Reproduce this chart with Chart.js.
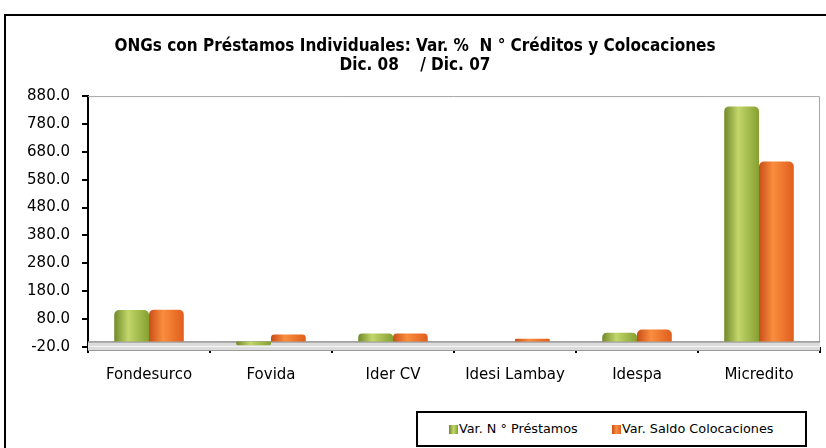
<!DOCTYPE html>
<html>
<head>
<meta charset="utf-8">
<script src="https://cdn.jsdelivr.net/npm/chart.js@4.4.1/dist/chart.umd.min.js"></script>
<style>
  html, body { margin: 0; padding: 0; background: #fff; }
  #wrap { position: relative; width: 826px; height: 448px; overflow: hidden; }
  #frame { position: absolute; left: 4px; top: 14px; width: 900px; height: 500px; border: 2px solid #000; box-sizing: border-box; }
  #chart { position: absolute; left: 0; top: 0; }
  #legend { position: absolute; left: 416px; top: 411px; width: 391px; height: 36px; border: 2px solid #000; box-sizing: border-box; background: #fff; font: 12.8px "DejaVu Sans", sans-serif; color: #000; }
  .item { position: absolute; top: 0; height: 32px; line-height: 32px; white-space: nowrap; }
  .icon { display: inline-block; width: 9px; height: 9px; margin-right: 1px; vertical-align: -1px; }
</style>
</head>
<body>
<div id="wrap">
  <div id="frame"></div>
  <canvas id="chart" width="826" height="448"></canvas>
  <div id="legend"></div>
</div>
<script>
/* ----------------------------- */
/* DATA                          */
/* ----------------------------- */
const categories = ["Fondesurco", "Fovida", "Ider CV", "Idesi Lambay", "Idespa", "Micredito"];
const prestamosVar = [113, -14, 28, 0, 31, 843];
const colocacionesVar = [114, 25, 28, 10, 43, 645];
const yTickValues = [-20, 80, 180, 280, 380, 480, 580, 680, 780, 880];
const seriesLabels = ["Var. N ° Préstamos", "Var. Saldo Colocaciones"];
const titleLines = [
  "ONGs con Préstamos Individuales: Var. %  N ° Créditos y Colocaciones",
  "Dic. 08    / Dic. 07",
];

/* ----------------------------- */
/* STYLE                         */
/* ----------------------------- */
const greenStops = ["#71892a", "#c3d66a", "#86a030"];
const orangeStops = ["#c94e17", "#f98d3e", "#e05e1c"];
const CAT_PCT = 0.57;

// cylinder-ish shading: horizontal gradient across each bar
const barGradient = (stops) => (ctx) => {
  const chart = ctx.chart;
  const xs = chart.scales.x;
  if (!xs || ctx.type !== "data" || !xs.width) return stops[1];
  const catW = xs.width / categories.length;
  const barW = (catW * CAT_PCT) / 2;
  const center = xs.getPixelForValue(ctx.dataIndex);
  if (!isFinite(center)) return stops[1];
  const left = center - barW + ctx.datasetIndex * barW;
  const g = chart.ctx.createLinearGradient(left, 0, left + barW, 0);
  g.addColorStop(0, stops[0]);
  g.addColorStop(0.4, stops[1]);
  g.addColorStop(1, stops[2]);
  return g;
};

// back wall edges + floor band
const wallPlugin = {
  id: "wall",
  beforeDatasetsDraw(chart) {
    const { ctx, chartArea: a, scales } = chart;
    const zeroY = scales.y.getPixelForValue(0);
    ctx.save();
    ctx.strokeStyle = "#a6a6a6";
    ctx.lineWidth = 1;
    ctx.beginPath();
    ctx.moveTo(a.left, a.top + 0.5);
    ctx.lineTo(a.right - 0.5, a.top + 0.5);
    ctx.lineTo(a.right - 0.5, a.bottom);
    ctx.stroke();
    ctx.fillStyle = "#dcdcdc";
    ctx.fillRect(a.left, zeroY, a.width, a.bottom + 3 - zeroY);
    ctx.strokeStyle = "#f4f4f4";
    ctx.beginPath();
    ctx.moveTo(a.left, a.bottom - 0.5);
    ctx.lineTo(a.right, a.bottom - 0.5);
    ctx.stroke();
    ctx.strokeStyle = "#707070";
    ctx.beginPath();
    ctx.moveTo(a.left, zeroY + 0.5);
    ctx.lineTo(a.right, zeroY + 0.5);
    ctx.stroke();
    ctx.strokeStyle = "#9a9a9a";
    ctx.beginPath();
    ctx.moveTo(a.left, a.bottom + 3.5);
    ctx.lineTo(a.right, a.bottom + 3.5);
    ctx.stroke();
    ctx.restore();
  },
};

/* ----------------------------- */
/* CHART                         */
/* ----------------------------- */
Chart.defaults.font.family = "'DejaVu Sans', sans-serif";
Chart.defaults.color = "#000";

new Chart(document.getElementById("chart"), {
  type: "bar",
  data: {
    labels: categories,
    datasets: [
      {
        label: seriesLabels[0],
        data: prestamosVar,
        backgroundColor: barGradient(greenStops),
        borderRadius: 5,
        borderSkipped: "start",
      },
      {
        label: seriesLabels[1],
        data: colocacionesVar,
        backgroundColor: barGradient(orangeStops),
        borderRadius: 5,
        borderSkipped: "start",
      },
    ],
  },
  options: {
    responsive: false,
    animation: false,
    layout: { padding: { left: 10, right: 6, top: 0, bottom: 51 } },
    datasets: { bar: { barPercentage: 1, categoryPercentage: CAT_PCT } },
    plugins: {
      legend: { display: false },
      tooltip: { enabled: false },
      title: {
        display: true,
        text: titleLines,
        color: "#000",
        font: { family: "'DejaVu Sans Condensed', 'DejaVu Sans', sans-serif", size: 17, weight: "bold", lineHeight: 1.12 },
        padding: { top: 37, bottom: 21 },
      },
    },
    scales: {
      x: {
        grid: {
          offset: true,
          drawOnChartArea: false,
          tickLength: 6,
          color: "#000",
          lineWidth: 2,
        },
        border: { display: false },
        ticks: { font: { size: 15 }, padding: 13, color: "#000" },
      },
      y: {
        min: -20,
        max: 880,
        afterBuildTicks: (scale) => {
          scale.ticks = yTickValues.map((v) => ({ value: v }));
        },
        afterFit: (scale) => {
          scale.width = 78;
        },
        grid: {
          drawOnChartArea: false,
          tickLength: 6,
          color: "#000",
          lineWidth: 2,
        },
        border: { display: true, color: "#000", width: 2 },
        ticks: {
          font: { size: 15 },
          padding: 12,
          color: "#000",
          callback: (v) => Number(v).toFixed(1),
        },
      },
    },
  },
  plugins: [wallPlugin],
});

/* ----------------------------- */
/* LEGEND (html)                 */
/* ----------------------------- */
const legendEl = document.getElementById("legend");
const legendStops = [greenStops, orangeStops];
const legendLeft = [31, 194];
seriesLabels.forEach((label, i) => {
  const item = document.createElement("div");
  item.className = "item";
  item.style.left = legendLeft[i] + "px";
  const icon = document.createElement("span");
  icon.className = "icon";
  icon.style.background = `linear-gradient(to right, ${legendStops[i][0]}, ${legendStops[i][1]}, ${legendStops[i][2]})`;
  item.appendChild(icon);
  item.appendChild(document.createTextNode(label));
  legendEl.appendChild(item);
});
</script>
</body>
</html>
